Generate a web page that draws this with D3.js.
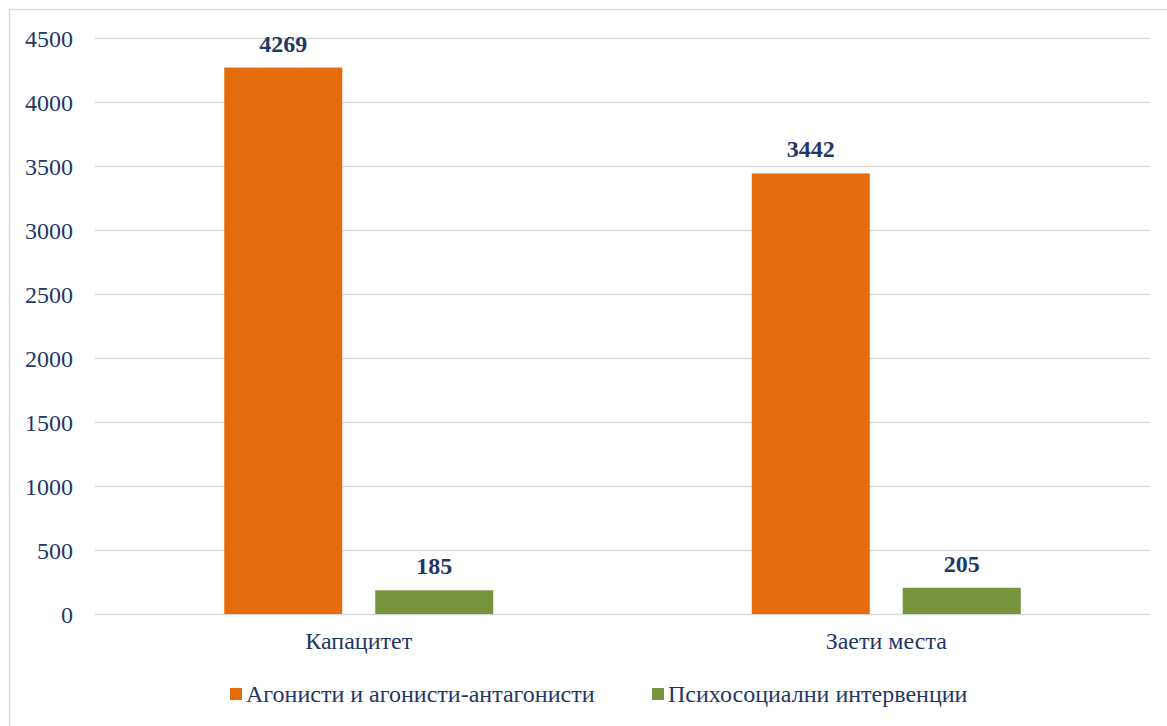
<!DOCTYPE html>
<html>
<head>
<meta charset="utf-8">
<script src="https://cdn.jsdelivr.net/npm/d3@7"></script>
<style>
  html, body { margin: 0; padding: 0; background: #fff; }
  svg { display: block; }
</style>
</head>
<body>
<svg id="chart" width="1167" height="726"></svg>
<script>
// Categories, series and axis ticks
const categories = ["Капацитет", "Заети места"];
const seriesNames = ["Агонисти и агонисти-антагонисти", "Психосоциални интервенции"];
const agonists = [4269, 3442];
const psychosocial = [185, 205];
const yTicks = [0, 500, 1000, 1500, 2000, 2500, 3000, 3500, 4000, 4500];
const colors = ["#E46C0A", "#77933C"];

const FONT = "'Liberation Serif', 'Times New Roman', serif";
const INK = "#1F3864";

const svg = d3.select("#chart");

// Outer chart frame
svg.append("rect")
  .attr("x", 9.5).attr("y", 9.5)
  .attr("width", 1170).attr("height", 730)
  .attr("fill", "none").attr("stroke", "#D9D9D9").attr("stroke-width", 1.5);

const plot = { left: 95, right: 1150, top: 38, bottom: 614 };

const y = d3.scaleLinear().domain([0, 4500]).range([plot.bottom, plot.top]);
const x0 = d3.scaleBand().domain(categories).range([plot.left, plot.right]).paddingInner(0).paddingOuter(0);
const x1 = d3.scaleBand().domain(seriesNames).range([0, x0.bandwidth()]).paddingInner(0.2185).paddingOuter(0.856);

// Horizontal gridlines and value ticks
const yAxis = d3.axisLeft(y).tickValues(yTicks).tickFormat(d3.format("d"))
  .tickSize(-(plot.right - plot.left)).tickPadding(22);
const gy = svg.append("g").attr("transform", `translate(${plot.left},0)`).call(yAxis)
  .attr("font-family", null).attr("font-size", null);
gy.select(".domain").remove();
gy.selectAll(".tick line").attr("stroke", "#D9D9D9").attr("stroke-width", 1.5);
gy.selectAll(".tick text")
  .style("font-family", FONT).style("font-size", "24px").attr("fill", INK).attr("dy", "0.34em");

// Category axis labels
const xAxis = d3.axisBottom(x0).tickSize(0).tickPadding(0);
const gx = svg.append("g").attr("transform", `translate(0,${plot.bottom})`).call(xAxis)
  .attr("font-family", null).attr("font-size", null);
gx.select(".domain").remove();
gx.selectAll(".tick text")
  .attr("y", 35).attr("dy", null)
  .style("font-family", FONT).style("font-size", "24px").attr("fill", INK);

// Bars
const rows = categories.map((c, i) => ({ cat: c, vals: [agonists[i], psychosocial[i]] }));
const groups = svg.append("g").selectAll("g").data(rows).join("g")
  .attr("transform", d => `translate(${x0(d.cat)},0)`);

groups.selectAll("rect")
  .data(d => d.vals.map((v, j) => ({ name: seriesNames[j], v, j })))
  .join("rect")
  .attr("x", d => x1(d.name))
  .attr("y", d => y(d.v))
  .attr("width", x1.bandwidth())
  .attr("height", d => y(0) - y(d.v))
  .attr("fill", d => colors[d.j]);

// Value labels
groups.selectAll("text.val")
  .data(d => d.vals.map((v, j) => ({ name: seriesNames[j], v, j })))
  .join("text")
  .attr("class", "val")
  .attr("x", d => x1(d.name) + x1.bandwidth() / 2)
  .attr("y", d => y(d.v) - 16)
  .attr("text-anchor", "middle")
  .attr("fill", INK)
  .style("font-family", FONT).style("font-size", "24px").style("font-weight", "bold")
  .text(d => d.v);

// Legend
const legendItems = [
  { name: seriesNames[0], color: colors[0], x: 230 },
  { name: seriesNames[1], color: colors[1], x: 652 }
];
const lg = svg.append("g").selectAll("g").data(legendItems).join("g")
  .attr("transform", d => `translate(${d.x},694)`);
lg.append("rect").attr("x", 0).attr("y", -6).attr("width", 12).attr("height", 12).attr("fill", d => d.color);
lg.append("text").attr("x", 16).attr("y", 0).attr("dy", "0.33em")
  .attr("fill", INK)
  .style("font-family", FONT).style("font-size", "24px")
  .text(d => d.name);
</script>
</body>
</html>
